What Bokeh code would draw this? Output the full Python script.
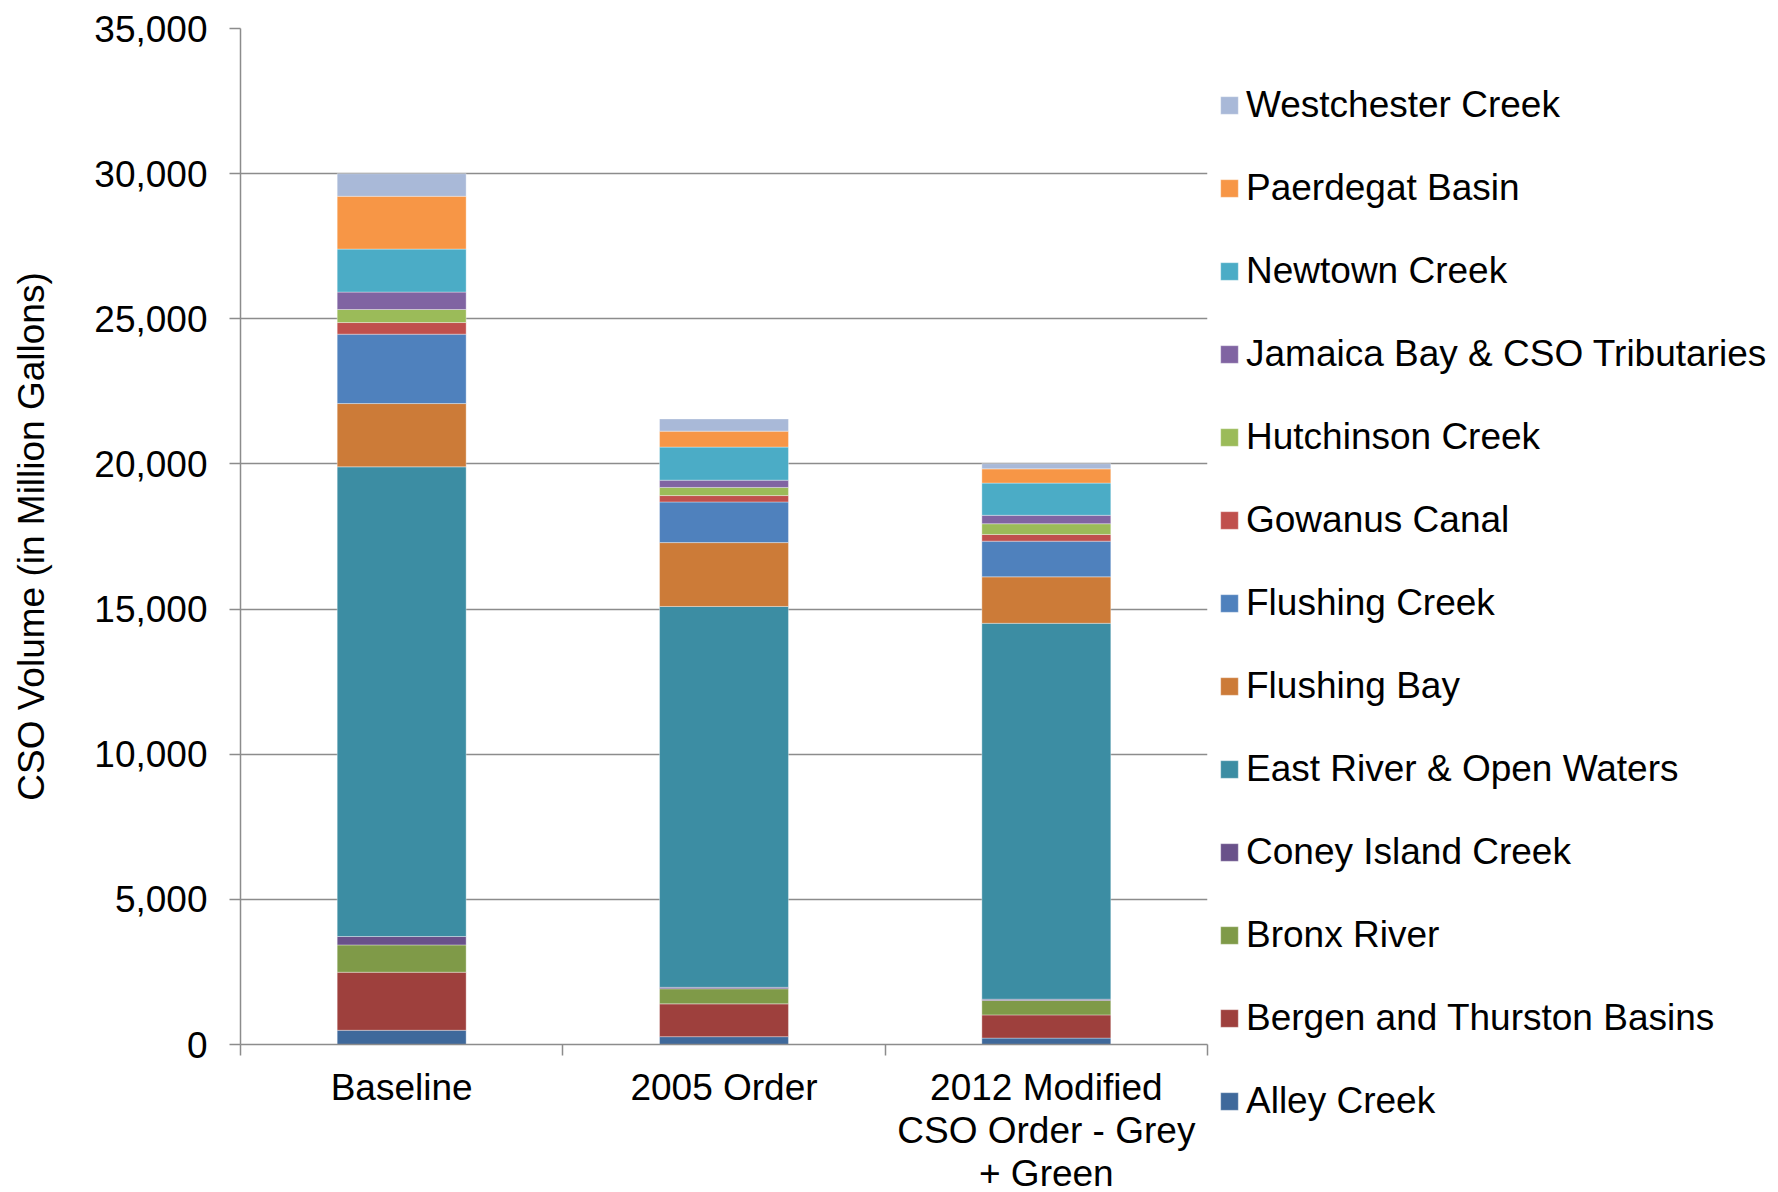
import numpy as np
from bokeh.plotting import figure
from bokeh.models import (ColumnDataSource, Legend, LegendItem, FixedTicker,
                          NumeralTickFormatter, Range1d)
from bokeh.embed import file_html
from bokeh.resources import INLINE

categories = ["Baseline", "2005 Order", "2012 Modified\nCSO Order - Grey\n+ Green"]

series = ["Alley Creek", "Bergen and Thurston Basins", "Bronx River",
          "Coney Island Creek", "East River & Open Waters", "Flushing Bay",
          "Flushing Creek", "Gowanus Canal", "Hutchinson Creek",
          "Jamaica Bay & CSO Tributaries", "Newtown Creek", "Paerdegat Basin",
          "Westchester Creek"]

colors = ["#3F699B", "#9E403D", "#7F9A48", "#69518A", "#3C8DA3", "#CC7B38",
          "#4F81BD", "#C0504D", "#9BBB59", "#8064A2", "#4BACC6", "#F79646",
          "#A9B9D8"]

baseline = [490, 2000, 940, 290, 16180, 2180, 2390, 400, 450, 600, 1480, 1820, 780]
order_2005 = [270, 1130, 520, 50, 13120, 2200, 1400, 220, 280, 250, 1140, 550, 420]
modified_2012 = [220, 800, 500, 40, 12950, 1600, 1230, 230, 370, 290, 1110, 490, 180]

y_ticks = [0, 5000, 10000, 15000, 20000, 25000, 30000, 35000]

FONT = "Liberation Sans"
FS = "37px"
GRID = "#8C8C8C"

x = np.arange(len(categories)) + 0.5
data = {"x": x}
for i, s in enumerate(series):
    data[s] = [baseline[i], order_2005[i], modified_2012[i]]
src = ColumnDataSource(data)

p = figure(frame_width=967, frame_height=1016,
           x_range=Range1d(0, len(categories)), y_range=Range1d(0, y_ticks[-1]),
           output_backend="svg", toolbar_location=None,
           min_border_left=240, min_border_top=28, min_border_bottom=148,
           min_border_right=10, outline_line_color=None)

renderers = p.vbar_stack(series, x="x", width=0.4, fill_color=colors,
                         line_color="white", line_alpha=0.35, line_width=1,
                         source=src)

# y axis
p.yaxis.ticker = FixedTicker(ticks=y_ticks)
p.yaxis.formatter = NumeralTickFormatter(format="0,0")
p.yaxis.major_label_text_font = FONT
p.yaxis.major_label_text_font_size = FS
p.yaxis.major_label_text_color = "black"
p.yaxis.major_tick_out = 11
p.yaxis.major_tick_in = 0
p.yaxis.minor_tick_line_color = None
p.yaxis.major_label_standoff = 22
p.yaxis.axis_line_color = GRID
p.yaxis.axis_line_width = 1.5
p.yaxis.major_tick_line_color = GRID
p.yaxis.major_tick_line_width = 1.5
p.yaxis.axis_label = "CSO Volume (in Million Gallons)"
p.yaxis.axis_label_text_font = FONT
p.yaxis.axis_label_text_font_size = FS
p.yaxis.axis_label_text_font_style = "normal"
p.yaxis.axis_label_text_color = "black"
p.yaxis.axis_label_standoff = 39

# x axis
p.xaxis.ticker = FixedTicker(ticks=list(x), minor_ticks=list(range(len(categories) + 1)))
p.xaxis.major_label_overrides = {float(xi): c for xi, c in zip(x, categories)}
p.xaxis.major_label_text_font = FONT
p.xaxis.major_label_text_font_size = FS
p.xaxis.major_label_text_line_height = 1.05
p.xaxis.major_label_text_color = "black"
p.xaxis.major_tick_out = 0
p.xaxis.major_tick_in = 0
p.xaxis.major_tick_line_color = None
p.xaxis.minor_tick_out = 11
p.xaxis.minor_tick_in = 0
p.xaxis.minor_tick_line_color = GRID
p.xaxis.minor_tick_line_width = 1.5
p.xaxis.major_label_standoff = 11
p.xaxis.axis_line_color = GRID
p.xaxis.axis_line_width = 1.5

p.xgrid.visible = False
p.ygrid.grid_line_color = GRID
p.ygrid.grid_line_width = 1.5

items = [LegendItem(label=s, renderers=[r]) for s, r in zip(series, renderers)][::-1]
legend = Legend(items=items, location=(11, -78), margin=0, padding=0,
                border_line_color=None, background_fill_alpha=0,
                glyph_width=22, glyph_height=22, label_height=22,
                label_standoff=6, spacing=41,
                label_text_font=FONT, label_text_font_size=FS,
                label_text_color="black")
p.add_layout(legend, "right")

open("out.html", "w").write(file_html(p, INLINE))
